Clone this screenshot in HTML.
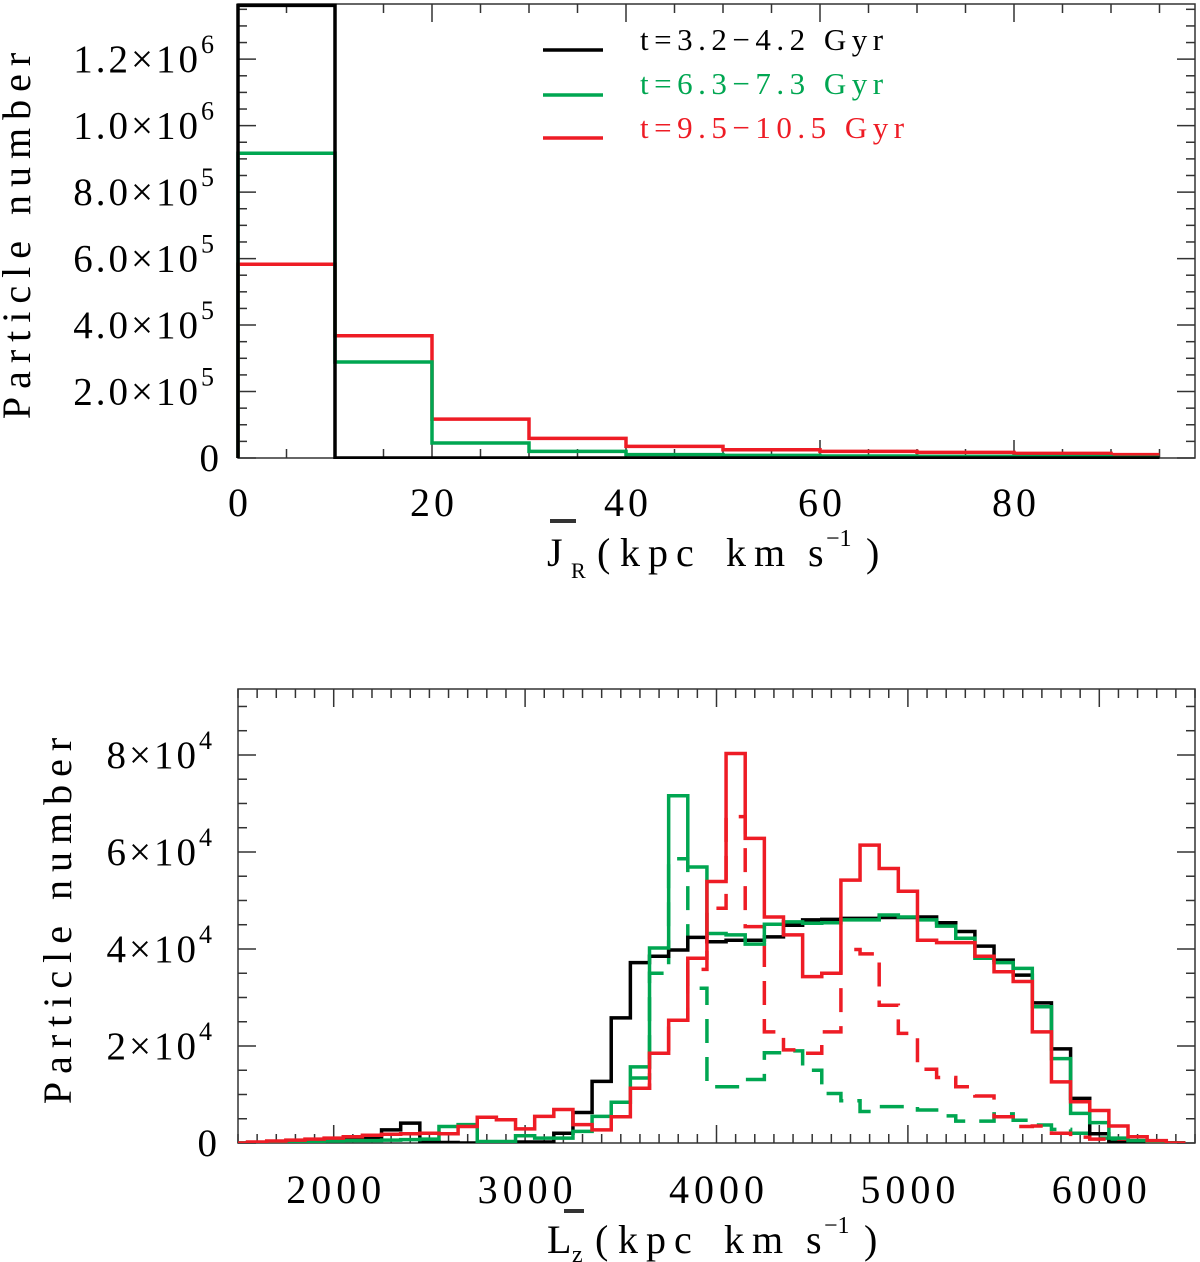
<!DOCTYPE html>
<html><head><meta charset="utf-8"><style>
html,body{margin:0;padding:0;background:#fff;}
svg{display:block;font-family:"Liberation Serif","DejaVu Serif",serif;}
</style></head><body>
<svg id="fig" width="1200" height="1262" viewBox="0 0 1200 1262" xmlns="http://www.w3.org/2000/svg">
<defs>
<clipPath id="clipTop"><rect x="236" y="3" width="960" height="456"/></clipPath>
<clipPath id="clipBot"><rect x="238" y="689" width="957" height="454"/></clipPath>
</defs>
<g id="top"></g>
<g id="bot"></g>
<g font-size="31" letter-spacing="5.5">
<line x1="543" y1="50" x2="603" y2="50" stroke="#000" stroke-width="3.5"/>
<text x="640" y="50" fill="#000">t=3.2−4.2 Gyr</text>
<line x1="543" y1="95" x2="603" y2="95" stroke="#00a651" stroke-width="3.5"/>
<text x="640" y="94" fill="#00a651">t=6.3−7.3 Gyr</text>
<line x1="543" y1="138" x2="603" y2="138" stroke="#ee1c25" stroke-width="3.5"/>
<text x="640" y="138" fill="#ee1c25">t=9.5−10.5 Gyr</text>
</g>
<text transform="translate(30,232) rotate(-90)" text-anchor="middle" font-size="40" letter-spacing="8">Particle number</text>
<text transform="translate(71,917) rotate(-90)" text-anchor="middle" font-size="40" letter-spacing="8">Particle number</text>
<g font-size="40">
<rect x="550" y="519" width="26" height="4" fill="#333"/>
<text x="547" y="566">J</text><text x="571" y="578" font-size="22">R</text>
<text x="597" y="566">(</text>
<text x="620" y="566" letter-spacing="8">kpc</text>
<text x="726" y="566" letter-spacing="8">km</text>
<text x="808" y="566">s</text>
<text x="826" y="546" font-size="24">−1</text>
<text x="866" y="566">)</text>
</g>
<g font-size="40">
<rect x="564" y="1209" width="20" height="4" fill="#333"/>
<text x="547" y="1253">L</text><text x="572" y="1262" font-size="24">z</text>
<text x="595" y="1253">(</text>
<text x="618" y="1253" letter-spacing="8">kpc</text>
<text x="724" y="1253" letter-spacing="8">km</text>
<text x="806" y="1253">s</text>
<text x="824" y="1233" font-size="24">−1</text>
<text x="864" y="1253">)</text>
</g>
</svg>
<script>
// ---- top panel data (J_R histogram) ----
const jrEdges = [0,10,20,30,40,50,60,70,80,90,95];
const jrBlack = [1362000,0,0,0,0,0,0,0,0,0];
const jrGreen = [917000,289000,45000,20000,10000,8000,6000,5000,4000,2000];
const jrRed   = [583000,368000,117000,59000,35000,25000,20000,17000,14000,10000];
const jrXTicks = [0,20,40,60,80];
const jrYTicks = [0,200000,400000,600000,800000,1000000,1200000];
const jrYLabels = ["0","2.0×10|5","4.0×10|5","6.0×10|5","8.0×10|5","1.0×10|6","1.2×10|6"];

// ---- bottom panel data (L_z histogram), bins of width 100 ----
const lzCenters = [1500,1600,1700,1800,1900,2000,2100,2200,2300,2400,2500,2600,2700,2800,2900,3000,3100,3200,3300,3400,3500,3600,3700,3800,3900,4000,4100,4200,4300,4400,4500,4600,4700,4800,4900,5000,5100,5200,5300,5400,5500,5600,5700,5800,5900,6000,6100,6200,6300,6400];
const lzBlack = [0,100,200,300,400,500,700,900,2700,4100,300,100,0,0,100,200,200,2000,6300,12700,25800,37200,38500,39800,42400,41500,41800,41800,42500,44900,46000,46100,46300,46300,46500,46500,46600,45400,43600,40600,37700,34600,28900,19400,9200,1900,100,0,0,0];
const lzGreen = [0,0,100,200,300,400,500,500,600,700,800,3400,3800,300,300,1500,1000,1000,2400,5500,8400,15700,40200,71600,56900,43200,42900,41000,45100,45600,45300,45400,46000,46000,47000,46600,46000,44700,42200,38100,37200,36000,28100,17400,6100,4200,1000,500,100,0];
const lzRed   = [0,200,400,600,800,1000,1300,1600,1800,1900,2000,1900,3400,5300,4800,2900,5500,6900,3800,2700,5400,11300,18500,25300,38100,53900,80300,62800,46600,42900,34300,35000,54200,61400,56600,51900,41800,41300,41300,38500,35300,33300,22900,12600,8500,6700,3500,1300,500,0];
const lzDashCenters = [3600,3700,3800,3900,4000,4100,4200,4300,4400,4500,4600,4700,4800,4900,5000,5100,5200,5300,5400,5500,5600,5700,5800,5900,6000,6100,6200,6300,6400];
const lzGreenDash = [13400,35000,58600,31900,11600,11600,13100,18600,19000,15000,10200,8700,6500,7500,7500,6800,5600,4500,4500,6000,4700,3700,2800,2000,1000,500,0,0,0];
const lzRedDash   = [11300,18500,25300,35800,48400,67300,44600,22900,19200,18500,22900,39900,39000,28400,22600,15200,13500,11600,9700,5400,3400,3500,2000,1200,800,300,0,0,0];
const lzXTicks = [2000,3000,4000,5000,6000];
const lzYTicks = [0,20000,40000,60000,80000];
const lzYLabels = ["0","2×10|4","4×10|4","6×10|4","8×10|4"];

const NS = "http://www.w3.org/2000/svg";
const BLACK="#000", GREEN="#00a651", RED="#ee1c25";
function mk(tag, attrs, parent){const e=document.createElementNS(NS,tag);for(const k in attrs)e.setAttribute(k,attrs[k]);parent.appendChild(e);return e;}

function panel(o){
  const X = v => o.x0 + (v - o.xmin)/(o.xmax - o.xmin)*(o.x1 - o.x0);
  const Y = v => o.y1 - (v - o.ymin)/(o.ymax - o.ymin)*(o.y1 - o.y0);
  return {X,Y};
}

function drawAxes(g, o, X, Y, xTicks, xMinor, yTicks, yMinor, yLabels, xLabelY, yLabelX, xls, pre){
  const ax = mk('g',{},g);
  
  
  mk('rect',{x:o.x0,y:o.y0,width:o.x1-o.x0,height:o.y1-o.y0,fill:'none',stroke:'#333','stroke-width':1.5},ax);
  for(let v=o.xmin; v<=o.xmax+1e-9; v+=xMinor){
    const isMaj = xTicks.some(t=>Math.abs(t-v)<1e-6);
    const L = isMaj?18:9, x=X(v);
    mk('line',{x1:x,y1:o.y1,x2:x,y2:o.y1-L,stroke:'#333','stroke-width':1.5},ax);
    mk('line',{x1:x,y1:o.y0,x2:x,y2:o.y0+L,stroke:'#333','stroke-width':1.5},ax);
  }
  for(let v=o.ymin; v<=o.ymax+1e-9; v+=yMinor){
    const isMaj = yTicks.some(t=>Math.abs(t-v)<1e-6);
    const L = isMaj?18:9, y=Y(v);
    mk('line',{x1:o.x0,y1:y,x2:o.x0+L,y2:y,stroke:'#333','stroke-width':1.5},ax);
    mk('line',{x1:o.x1,y1:y,x2:o.x1-L,y2:y,stroke:'#333','stroke-width':1.5},ax);
  }
  xTicks.forEach(v=>{
    const t = mk('text',{x:X(v)+xls/2,y:xLabelY,'text-anchor':'middle','font-size':40,'letter-spacing':xls},g);
    
    
    t.textContent = String(v);
  });
  yTicks.forEach((v,i)=>{
    const parts = yLabels[i].split('|');
    const y = Y(v);
    const t = mk('text',{x:yLabelX,y:y+13,'text-anchor':'end','font-size':39,'letter-spacing':3},g);
    
    
    t.textContent = parts[0];
    if(parts.length>1){
      t.setAttribute('x', yLabelX - 21);
      const s = mk('text',{x:yLabelX-21,y:y-6,'font-size':26},g);
      
      
      s.textContent = parts[1];
    }
  });
}

function stepPath(edges, vals, X, Y, fromZero){
  let d = fromZero ? 'M'+X(edges[0])+','+Y(0)+' V'+Y(vals[0]) : 'M'+X(edges[0])+','+Y(vals[0]);
  for(let i=0;i<vals.length;i++){
    d += ' H'+X(edges[i+1]);
    if(i+1<vals.length) d += ' V'+Y(vals[i+1]);
  }
  return d;
}

// ---- top panel ----
const gt = document.getElementById('top');
const ot = {x0:238,x1:1195,y0:4,y1:458,xmin:0,xmax:98.66,ymin:0,ymax:1366000};
const pt = panel(ot);
drawAxes(gt, ot, pt.X, pt.Y, jrXTicks, 5, jrYTicks, 50000, jrYLabels, 516, 222, 4, 'top');
const topSeries = [[jrBlack,BLACK,'jr-black-histogram'],[jrGreen,GREEN,'jr-green-histogram'],[jrRed,RED,'jr-red-histogram']];
const gtc = mk('g',{'clip-path':'url(#clipTop)'},gt);
topSeries.slice().reverse().forEach(s=>{
  const p = mk('path',{d:stepPath(jrEdges,s[0],pt.X,pt.Y,true),fill:'none',stroke:s[1],'stroke-width':3.5},gtc);
  
  
});

// ---- bottom panel ----
const gb = document.getElementById('bot');
const ob = {x0:238,x1:1195,y0:689,y1:1143,xmin:1500,xmax:6500,ymin:0,ymax:93600};
const pb = panel(ob);
drawAxes(gb, ob, pb.X, pb.Y, lzXTicks, 100, lzYTicks, 5000, lzYLabels, 1203, 220, 5, 'bottom');
const gbc = mk('g',{'clip-path':'url(#clipBot)'},gb);
const edgesOf = c => c.map(v=>v-50).concat([c[c.length-1]+50]);
const lzEdges = edgesOf(lzCenters);
const lzDashEdges = edgesOf(lzDashCenters);
const dashSeries = [[lzGreenDash,GREEN,'lz-green-dashed-histogram'],[lzRedDash,RED,'lz-red-dashed-histogram']];
dashSeries.forEach(s=>{
  const p = mk('path',{d:stepPath(lzDashEdges,s[0],pb.X,pb.Y,false),fill:'none',stroke:s[1],'stroke-width':3.5,'stroke-dasharray':'24 14'},gbc);
  
  
});
const botSeries = [[lzBlack,BLACK,'lz-black-histogram'],[lzGreen,GREEN,'lz-green-histogram'],[lzRed,RED,'lz-red-histogram']];
botSeries.forEach(s=>{
  const p = mk('path',{d:stepPath(lzEdges,s[0],pb.X,pb.Y,true),fill:'none',stroke:s[1],'stroke-width':3.5},gbc);
  
  
});
</script>
</body></html>
